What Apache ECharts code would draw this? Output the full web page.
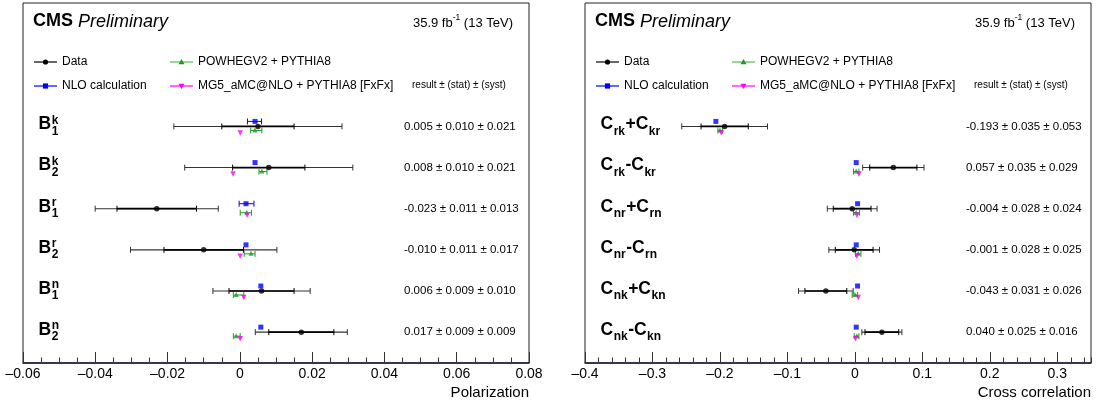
<!DOCTYPE html>
<html>
<head>
<meta charset="utf-8">
<script src="https://cdn.jsdelivr.net/npm/echarts@6/dist/echarts.min.js"></script>
<style>html,body{margin:0;padding:0;background:#fff}#chart{width:1096px;height:408px}</style>
</head>
<body>
<div id="chart"></div>
<script>
var FONT = 'Liberation Sans, Arial, Helvetica, sans-serif';

// polarization panel
var polCats  = ['B_{1}^{k}', 'B_{2}^{k}', 'B_{1}^{r}', 'B_{2}^{r}', 'B_{1}^{n}', 'B_{2}^{n}'];
var polVal   = [0.005, 0.008, -0.023, -0.010, 0.006, 0.017];
var polStat  = [0.010, 0.010, 0.011, 0.011, 0.009, 0.009];
var polSyst  = [0.021, 0.021, 0.013, 0.017, 0.010, 0.009];
var polNlo   = [0.0042, 0.0042, 0.0017, 0.0017, 0.0058, 0.0058];
var polNloLo = [0.0021, 0.0042, -0.0002, 0.0017, 0.0058, 0.0058];
var polNloHi = [0.0060, 0.0042, 0.0039, 0.0017, 0.0058, 0.0058];
var polPow   = [0.0042, 0.0061, 0.0019, 0.0031, -0.0010, -0.0010];
var polPowLo = [0.0030, 0.0053, 0.0001, 0.0012, -0.0018, -0.0018];
var polPowHi = [0.0061, 0.0075, 0.0032, 0.0042, 0.0011, 0.0001];
var polMg    = [0.0001, -0.0019, 0.0020, 0.0001, 0.0011, 0.0001];

// cross correlation panel
var crsCats  = ['C_{rk}+C_{kr}', 'C_{rk}-C_{kr}', 'C_{nr}+C_{rn}', 'C_{nr}-C_{rn}', 'C_{nk}+C_{kn}', 'C_{nk}-C_{kn}'];
var crsVal   = [-0.193, 0.057, -0.004, -0.001, -0.043, 0.040];
var crsStat  = [0.035, 0.035, 0.028, 0.028, 0.031, 0.025];
var crsSyst  = [0.053, 0.029, 0.024, 0.025, 0.026, 0.016];
var crsNlo   = [-0.206, 0.002, 0.004, 0.002, 0.004, 0.002];
var crsPow   = [-0.200, 0.002, 0.002, 0.005, 0.000, 0.003];
var crsPowLo = [-0.203, -0.002, -0.002, 0.001, -0.004, -0.001];
var crsPowHi = [-0.196, 0.006, 0.007, 0.009, 0.004, 0.006];
var crsMg    = [-0.198, 0.006, 0.003, 0.003, 0.005, 0.001];

// axes: min, max, major step, minor step
var polAxis = [-0.06, 0.08, 0.02, 0.005];
var crsAxis = [-0.4, 0.35, 0.1, 0.02];

var legendNames = ['Data', 'NLO calculation', 'POWHEGV2 + PYTHIA8', 'MG5_aMC@NLO + PYTHIA8 [FxFx]'];
var BLUE = '#0000ff', GREEN = '#1f9a1f', MAG = '#ff00ff';

var mctx = document.createElement('canvas').getContext('2d');
function tw(t, size, weight, style) {
    mctx.font = (style || 'normal') + ' ' + (weight || 'normal') + ' ' + size + 'px ' + FONT;
    return mctx.measureText(t).width;
}
function txt(t, x, y, size, weight, style, align, color) {
    return { type: 'text', style: { text: t, x: x, y: y, fontSize: size, fontWeight: weight || 'normal',
        fontStyle: style || 'normal', fontFamily: FONT, fill: color || '#000',
        textAlign: align || 'left', verticalAlign: 'middle' } };
}
function seg(x1, y1, x2, y2, color, w) {
    return { type: 'line', shape: { x1: x1, y1: y1, x2: x2, y2: y2 }, style: { stroke: color, lineWidth: w || 1.2 } };
}

// TeX-like label: B_{1}^{k}
function texParts(s) {
    var out = [], re = /([_^])\{([^}]*)\}|([^_^]+)/g, m;
    while ((m = re.exec(s))) {
        if (m[3]) out.push({ k: 'n', t: m[3] });
        else out.push({ k: m[1] === '_' ? 'sub' : 'sup', t: m[2] });
    }
    return out;
}
function texLabel(s, x, y) {
    var parts = texParts(s), kids = [], cx = x, BIG = 17.5, SM = 12;
    for (var j = 0; j < parts.length; j++) {
        var p = parts[j];
        if (p.k === 'n') {
            kids.push(txt(p.t, cx, y - 2, BIG, 'bold'));
            cx += tw(p.t, BIG, 'bold');
        } else {
            var w = tw(p.t, SM, 'bold');
            kids.push(txt(p.t, cx + 0.5, p.k === 'sub' ? y + 5 : y - 6, SM, 'bold'));
            var nx = parts[j + 1];
            if (nx && nx.k !== 'n' && nx.k !== p.k) {
                kids.push(txt(nx.t, cx + 0.5, nx.k === 'sub' ? y + 5 : y - 6, SM, 'bold'));
                w = Math.max(w, tw(nx.t, SM, 'bold'));
                j++;
            }
            cx += w + 1;
        }
    }
    return kids;
}

function fmt(v) { return (v < 0 ? '-' : '') + Math.abs(v).toFixed(3); }

// stat (inner ticks, heavier) and total (outer caps)
function dataBars(params, api) {
    var v = api.value(0), i = api.value(1), st = api.value(2), sy = api.value(3);
    var tot = Math.sqrt(st * st + sy * sy);
    var y = api.coord([v, i])[1], h = 3;
    var lo = api.coord([v - tot, i])[0], hi = api.coord([v + tot, i])[0];
    var sl = api.coord([v - st, i])[0], sh = api.coord([v + st, i])[0];
    return { type: 'group', children: [
        seg(lo, y, hi, y, '#333', 1.1),
        seg(sl, y, sh, y, '#000', 1.7),
        seg(lo, y - h, lo, y + h, '#333', 1), seg(hi, y - h, hi, y + h, '#333', 1),
        seg(sl, y - h, sl, y + h, '#000', 1), seg(sh, y - h, sh, y + h, '#000', 1)
    ] };
}
function modelBars(color, dy) {
    return function (params, api) {
        var lo = api.value(0), hi = api.value(1), i = api.value(2);
        if (hi - lo <= 0) return null;
        var a = api.coord([lo, i]), b = api.coord([hi, i]), y = a[1] + dy;
        return { type: 'group', children: [
            seg(a[0], y, b[0], y, color, 1), seg(a[0], y - 3, a[0], y + 3, color, 1), seg(b[0], y - 3, b[0], y + 3, color, 1)
        ] };
    };
}

function panelSeries(g, cats, val, stat, syst, nlo, nloLo, nloHi, pow, powLo, powHi, mg, ax) {
    var xi = g * 2, yi = g;
    var rows = cats.map(function (c, i) { return i; });
    return [
        { type: 'custom', xAxisIndex: xi, yAxisIndex: yi, renderItem: function (params, api) {
            var i = api.value(1);
            var y = api.coord([ax[0], i])[1];
            return { type: 'group', children: texLabel(cats[i], params.coordSys.x + 15.5, y) };
        }, data: rows.map(function (i) { return [ax[0], i]; }), silent: true },
        { type: 'custom', xAxisIndex: xi, yAxisIndex: yi, renderItem: function (params, api) {
            var i = api.value(1);
            var y = api.coord([ax[0], i])[1];
            return txt(fmt(val[i]) + ' \u00b1 ' + stat[i].toFixed(3) + ' \u00b1 ' + syst[i].toFixed(3),
                params.coordSys.x + 381, y, 11.5);
        }, data: rows.map(function (i) { return [ax[0], i]; }), silent: true },
        { type: 'custom', xAxisIndex: xi, yAxisIndex: yi, renderItem: dataBars,
          data: rows.map(function (i) { return [val[i], i, stat[i], syst[i]]; }), z: 2 },
        { type: 'custom', xAxisIndex: xi, yAxisIndex: yi, renderItem: modelBars(BLUE, -5),
          data: rows.map(function (i) { return [nloLo[i], nloHi[i], i]; }), z: 3 },
        { type: 'custom', xAxisIndex: xi, yAxisIndex: yi, renderItem: modelBars(GREEN, 4),
          data: rows.map(function (i) { return [powLo[i], powHi[i], i]; }), z: 3 },
        { type: 'scatter', name: legendNames[0], xAxisIndex: xi, yAxisIndex: yi, symbol: 'circle', symbolSize: 5.5,
          itemStyle: { color: '#000' }, data: rows.map(function (i) { return [val[i], i]; }), z: 4 },
        { type: 'scatter', name: legendNames[1], xAxisIndex: xi, yAxisIndex: yi, symbol: 'rect', symbolSize: 5,
          symbolOffset: [0, -5], itemStyle: { color: BLUE }, data: rows.map(function (i) { return [nlo[i], i]; }), z: 4 },
        { type: 'scatter', name: legendNames[2], xAxisIndex: xi, yAxisIndex: yi, symbol: 'triangle', symbolSize: 5,
          symbolOffset: [0, 3.5], itemStyle: { color: GREEN }, data: rows.map(function (i) { return [pow[i], i]; }), z: 4 },
        { type: 'scatter', name: legendNames[3], xAxisIndex: xi, yAxisIndex: yi, symbol: 'triangle', symbolSize: 5.5,
          symbolRotate: 180, symbolOffset: [0, 6.5], itemStyle: { color: MAG }, data: rows.map(function (i) { return [mg[i], i]; }), z: 4 }
    ];
}

function axisPair(g, ax, digits, hideMax) {
    var major = {
        type: 'value', gridIndex: g, position: 'bottom', min: ax[0], max: ax[1], interval: ax[2],
        axisLine: { show: true, onZero: false, lineStyle: { color: '#1a1a33', width: 1.5 } },
        axisTick: { inside: true, length: 11, lineStyle: { color: '#333', width: 1 } },
        axisLabel: { fontSize: 14, fontFamily: FONT, color: '#000', margin: 4, showMaxLabel: !hideMax, showMinLabel: true,
            formatter: function (v) {
                if (Math.abs(v) < 1e-9) return '0';
                return (v < 0 ? '\u2013' : '') + Math.abs(v).toFixed(digits);
            } },
        splitLine: { show: false }
    };
    var minor = {
        type: 'value', gridIndex: g, position: 'bottom', min: ax[0], max: ax[1], interval: ax[3],
        axisLine: { show: false, onZero: false }, axisTick: { inside: true, length: 5.5, lineStyle: { color: '#333', width: 1 } },
        axisLabel: { show: false }, splitLine: { show: false }
    };
    return [major, minor];
}

function legendSymbol(kind, x, y, color) {
    if (kind === 0) return { type: 'circle', shape: { cx: x, cy: y, r: 2.6 }, style: { fill: color } };
    if (kind === 1) return { type: 'rect', shape: { x: x - 2.6, y: y - 2.6, width: 5.2, height: 5.2 }, style: { fill: color } };
    if (kind === 2) return { type: 'polygon', shape: { points: [[x, y - 3], [x - 3, y + 2.2], [x + 3, y + 2.2]] }, style: { fill: color } };
    return { type: 'polygon', shape: { points: [[x, y + 3], [x - 3, y - 2.2], [x + 3, y - 2.2]] }, style: { fill: color } };
}

function panelGraphics(L, title) {
    var els = [];
    // header
    els.push(txt('CMS', L + 10, 21.5, 18, 'bold'));
    els.push(txt('Preliminary', L + 10 + tw('CMS', 18, 'bold') + 5, 21.5, 18, 'normal', 'italic'));
    var a = '35.9 fb', s = '-1', b = ' (13 TeV)';
    var wa = tw(a, 13), ws = tw(s, 8.5), wb = tw(b, 13);
    var x0 = L + 490 - wa - ws - wb;
    els.push(txt(a, x0, 23, 13));
    els.push(txt(s, x0 + wa, 18, 8.5));
    els.push(txt(b, x0 + wa + ws, 23, 13));
    // legend (2 x 2)
    var cols = [L + 11, L + 147], rowsY = [62, 86];
    var colors = ['#000', BLUE, GREEN, MAG], lineCols = ['#000', BLUE, '#55bb55', MAG];
    for (var k = 0; k < 4; k++) {
        var cx = cols[k < 2 ? 0 : 1], cy = rowsY[k % 2];
        els.push(seg(cx, cy, cx + 23, cy, lineCols[k], 1.2));
        els.push(legendSymbol(k, cx + 11.5, cy, colors[k]));
        els.push(txt(legendNames[k], cx + 28, cy, 12));
    }
    els.push(txt('result \u00b1 (stat) \u00b1 (syst)', L + 389, 85, 10));
    // axis title
    els.push(txt(title, L + 506, 392.5, 15, 'normal', 'normal', 'right'));
    return els;
}

var chart = echarts.init(document.getElementById('chart'));
var grids = [
    { left: 23, top: 3, width: 506, height: 360, show: true, borderColor: '#222', borderWidth: 1 },
    { left: 585, top: 3, width: 506, height: 360, show: true, borderColor: '#222', borderWidth: 1 }
];
var yAxes = [0, 1].map(function (g) {
    return { type: 'value', gridIndex: g, inverse: true, min: -3, max: 5.75, show: false };
});

chart.setOption({
    animation: false,
    grid: grids,
    xAxis: axisPair(0, polAxis, 2, false).concat(axisPair(1, crsAxis, 1, true)),
    yAxis: yAxes,
    series: panelSeries(0, polCats, polVal, polStat, polSyst, polNlo, polNloLo, polNloHi, polPow, polPowLo, polPowHi, polMg, polAxis)
        .concat(panelSeries(1, crsCats, crsVal, crsStat, crsSyst, crsNlo, crsNlo, crsNlo, crsPow, crsPowLo, crsPowHi, crsMg, crsAxis)),
    graphic: panelGraphics(23, 'Polarization').concat(panelGraphics(585, 'Cross correlation'))
});
</script>
</body>
</html>
